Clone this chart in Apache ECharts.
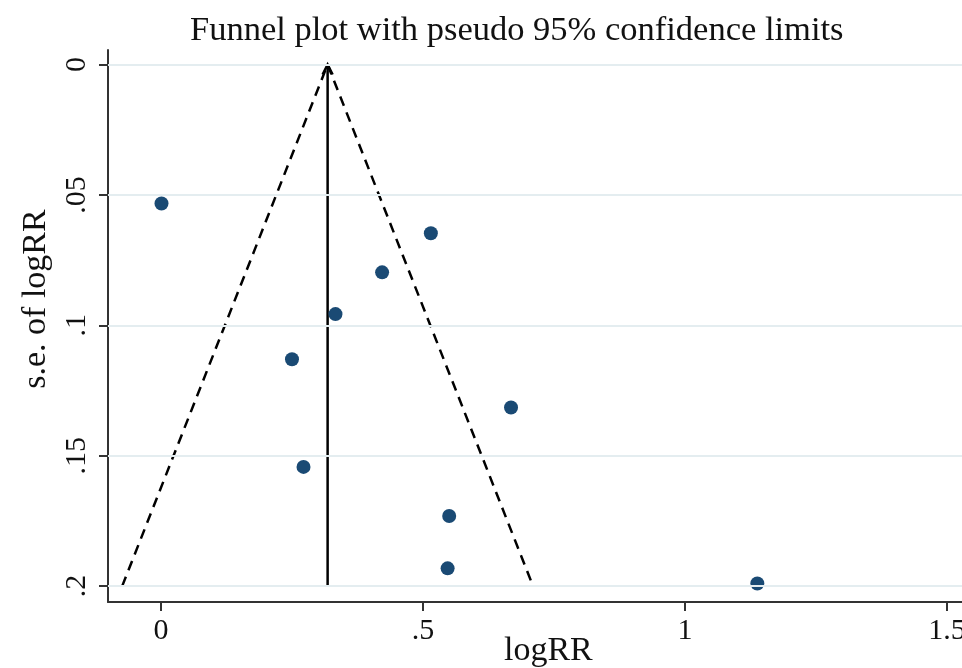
<!DOCTYPE html>
<html>
<head>
<meta charset="utf-8">
<script src="https://cdn.jsdelivr.net/npm/echarts@6/dist/echarts.min.js"></script>
<style>
  html, body { margin: 0; padding: 0; background: #fff; }
  #chart { width: 962px; height: 668px; }
</style>
</head>
<body>
<div id="chart"></div>
<script>
// study estimates
const logRR = [0.001, 0.515, 0.422, 0.333, 0.250, 0.668, 0.272, 0.550, 0.547, 1.138]
const seLogRR = [0.0533, 0.0647, 0.0797, 0.0957, 0.1130, 0.1315, 0.1543, 0.1731, 0.1932, 0.1990]

// pooled estimate and funnel limits
const pooled = 0.318
const seMax = 0.2
const z95 = 1.96

const xTicks = [0, 0.5, 1, 1.5]
const xTickLabels = ['0', '.5', '1', '1.5']
const yTicks = [0, 0.05, 0.1, 0.15, 0.2]
const yTickLabels = ['0', '.05', '.1', '.15', '.2']

const serif = 'Liberation Serif'

const points = logRR.map((v, i) => [v, seLogRR[i]])
const funnel = [
  [pooled - z95 * seMax, seMax],
  [pooled, 0],
  [pooled + z95 * seMax, seMax]
]

const chart = echarts.init(document.getElementById('chart'))

const option = {
  backgroundColor: '#fff',
  animation: false,
  title: {
    text: 'Funnel plot with pseudo 95% confidence limits',
    left: 185,
    top: 8,
    textStyle: { fontFamily: serif, fontSize: 34.5, fontWeight: 'normal', color: '#111' }
  },
  grid: { left: 108, right: 0, top: 50, bottom: 66, outerBoundsMode: 'none' },
  xAxis: {
    type: 'value',
    min: -0.1011,
    max: 1.5286,
    axisLine: { show: true, onZero: false, lineStyle: { color: '#333', width: 2 } },
    axisTick: { show: true, customValues: xTicks, length: 9, lineStyle: { color: '#333', width: 2 } },
    axisLabel: {
      customValues: xTicks,
      margin: 14,
      hideOverlap: false,
      fontFamily: serif, fontSize: 30, color: '#111',
      formatter: v => xTickLabels[xTicks.indexOf(v)]
    },
    splitLine: { show: false }
  },
  yAxis: {
    type: 'value',
    inverse: true,
    min: -0.00556,
    max: 0.2061,
    axisLine: { show: true, onZero: false, lineStyle: { color: '#333', width: 2 } },
    axisTick: { show: true, customValues: yTicks, length: 9, lineStyle: { color: '#333', width: 2 } },
    axisLabel: {
      customValues: yTicks,
      rotate: 90,
      margin: 16,
      fontFamily: serif, fontSize: 30, color: '#111',
      formatter: v => yTickLabels[yTicks.indexOf(v)]
    },
    splitLine: { show: false }
  },
  graphic: [
    {
      type: 'text', left: 504, top: 634,
      style: { text: 'logRR', font: '34px "Liberation Serif"', fill: '#111' }
    },
    {
      type: 'text', x: 36, y: 299, rotation: Math.PI / 2,
      style: { text: 's.e. of logRR', font: '34px "Liberation Serif"', fill: '#111', align: 'center', verticalAlign: 'middle' }
    }
  ],
  series: [
    {
      // grid lines at the y ticks
      type: 'line',
      data: [],
      markLine: {
        silent: true,
        symbol: 'none',
        label: { show: false },
        lineStyle: { color: '#e4edf0', width: 2, type: 'solid' },
        data: yTicks.map(v => ({ yAxis: v }))
      }
    },
    {
      type: 'line',
      data: funnel,
      symbol: 'none',
      lineStyle: { color: '#000', width: 2.5, type: [10, 7] },
      z: 3
    },
    {
      type: 'custom',
      data: [[pooled, 0, seMax]],
      renderItem: (params, api) => {
        const top = api.coord([api.value(0), api.value(1)])
        const bot = api.coord([api.value(0), api.value(2)])
        return {
          type: 'group',
          children: [
            { type: 'line', shape: { x1: bot[0], y1: bot[1], x2: top[0], y2: top[1] }, style: { stroke: '#000', lineWidth: 2.5 } },
            { type: 'polyline', shape: { points: [[top[0] - 5, top[1] + 10], [top[0], top[1]], [top[0] + 5, top[1] + 10]] }, style: { stroke: '#000', lineWidth: 2.5, fill: null } }
          ]
        }
      },
      z: 3
    },
    {
      type: 'scatter',
      data: points,
      symbolSize: 14,
      itemStyle: { color: '#1a4a74', opacity: 1 },
      z: 4
    }
  ]
}

chart.setOption(option)
window.addEventListener('resize', () => chart.resize())
</script>
</body>
</html>
